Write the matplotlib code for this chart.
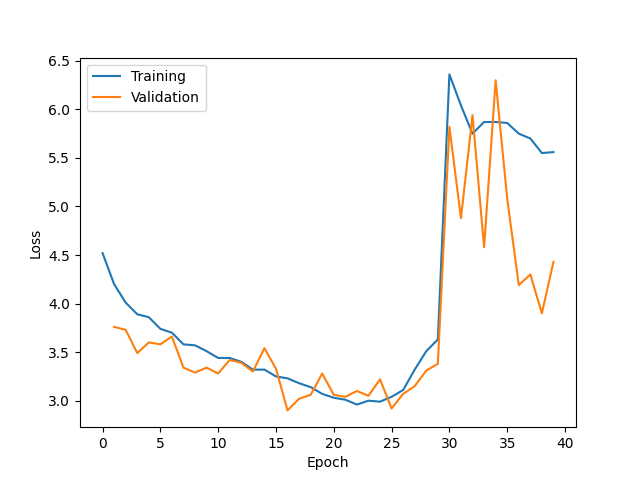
import matplotlib
matplotlib.use('Agg')
import matplotlib.pyplot as plt

# Loss per epoch
trainEpochs = list(range(40))
trainLoss = [4.52, 4.20, 4.01, 3.89, 3.86, 3.74, 3.70, 3.58, 3.57, 3.51,
             3.44, 3.44, 3.40, 3.32, 3.32, 3.25, 3.23, 3.18, 3.14, 3.07,
             3.03, 3.01, 2.96, 3.00, 2.99, 3.04, 3.11, 3.32, 3.51, 3.63,
             6.36, 6.04, 5.75, 5.87, 5.87, 5.86, 5.75, 5.70, 5.55, 5.56]

valEpochs = list(range(1, 40))
valLoss = [3.76, 3.73, 3.49, 3.60, 3.58, 3.66, 3.34, 3.29, 3.34,
           3.28, 3.42, 3.39, 3.30, 3.54, 3.33, 2.90, 3.02, 3.06, 3.28,
           3.06, 3.04, 3.10, 3.05, 3.22, 2.92, 3.07, 3.15, 3.31, 3.38,
           5.82, 4.88, 5.94, 4.58, 6.30, 5.08, 4.19, 4.30, 3.90, 4.43]

fig, ax = plt.subplots(figsize=(6.4, 4.8), dpi=100)
ax.plot(trainEpochs, trainLoss, label='Training')
ax.plot(valEpochs, valLoss, label='Validation')

ax.set_xlabel('Epoch')
ax.set_ylabel('Loss')
ax.legend(loc='upper left')

fig.savefig('out.png', dpi=100)
